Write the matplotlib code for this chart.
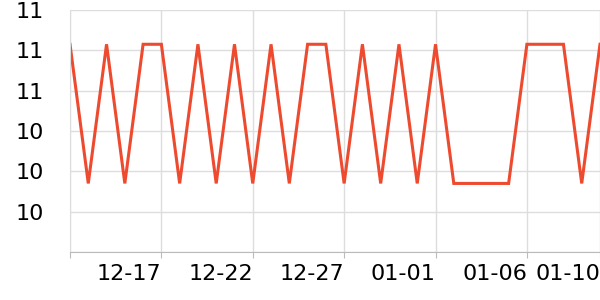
import matplotlib
matplotlib.use("Agg")
import matplotlib.pyplot as plt
from matplotlib.ticker import FuncFormatter
import pandas as pd

# daily values, 12-12 .. 01-10
dates = pd.date_range("2023-12-12", "2024-01-10", freq="D")
hi = 10.83
lo = 10.14
values = [hi, lo, hi, lo, hi, hi, lo, hi, lo, hi,
          lo, hi, lo, hi, hi, lo, hi, lo, hi, lo,
          hi, lo, lo, lo, lo, hi, hi, hi, lo, hi]

tick_dates = pd.to_datetime(["2023-12-17", "2023-12-22", "2023-12-27",
                             "2024-01-01", "2024-01-06", "2024-01-10"])
y_ticks = [10.0, 10.2, 10.4, 10.6, 10.8, 11.0]

fig = plt.figure(figsize=(6, 3), dpi=100)
ax = fig.add_axes([70/600, 1 - 252/300, 530/600, 242/300])

ax.plot(dates, values, color='#ee4a2f', linewidth=2.2, solid_joinstyle='miter')

ax.set_xlim(dates[0], dates[-1])
ax.set_ylim(9.8, 11.0)

ax.set_xticks([dates[0]] + list(tick_dates))
ax.set_xticklabels([""] + [d.strftime("%m-%d") for d in tick_dates], ha='right')
ax.set_yticks([9.8] + y_ticks)
ax.yaxis.set_major_formatter(FuncFormatter(lambda v, p: "" if v < 9.9 else "%d" % round(v)))

ax.grid(True, color='#dddddd', linewidth=1)
for s in ['top', 'right']:
    ax.spines[s].set_visible(False)
ax.spines['left'].set_color('#dddddd')
ax.spines['bottom'].set_color('#bbbbbb')
ax.tick_params(axis='y', length=0, pad=19, labelsize=16)
ax.tick_params(axis='x', length=4, color='#bbbbbb', pad=5, labelsize=16)

fig.savefig("out.png", dpi=100)
